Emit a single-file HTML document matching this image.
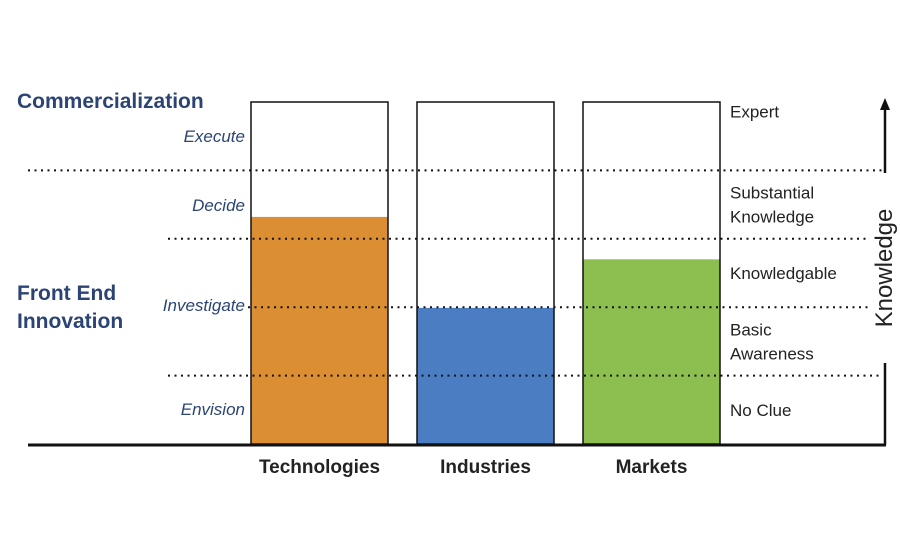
<!DOCTYPE html>
<html><head><meta charset="utf-8"><style>
html,body{margin:0;padding:0;background:#fff;}
svg{display:block;font-family:"Liberation Sans",sans-serif;}
</style></head><body>
<svg id="chart" width="900" height="550"></svg>
<script>
const categories = ["Technologies","Industries","Markets"];
const values = [3.32, 1.99, 2.70];
const colors = ["#DB8E32","#4A7DC2","#8DBE50"];
const levelLabels = [["No Clue"],["Basic","Awareness"],["Knowledgable"],["Substantial","Knowledge"],["Expert"]];
const stageLabels = ["Envision","Investigate","Decide","Execute"];
const NS="http://www.w3.org/2000/svg";
const svg=document.getElementById('chart');
const y0=444, yTop=102, maxV=5;
const y=v=>y0-(v/maxV)*(y0-yTop);
const barX=[251,417,583], barW=137;
function mk(t,a,p){const e=document.createElementNS(NS,t);for(const k in a)e.setAttribute(k,a[k]);(p||svg).appendChild(e);return e;}
// bars
categories.forEach((c,i)=>{
  const f=mk('rect',{x:barX[i],y:y(values[i]),width:barW,height:y0-y(values[i]),fill:colors[i]});
  
  
  const o=mk('rect',{x:barX[i],y:yTop,width:barW,height:y0-yTop,fill:'none',stroke:'#111','stroke-width':1.5});
  
  
  const t=mk('text',{x:barX[i]+barW/2,y:473,'text-anchor':'middle','font-size':19,'font-weight':'bold',fill:'#222'});
  t.textContent=c;
  
  
});
// dotted lines
const lineSpans=[[168,880],[248,870],[168,866],[28,885]];
[1,2,3,4].forEach((v,i)=>{
  const l=mk('line',{x1:lineSpans[i][0],x2:lineSpans[i][1],y1:y(v),y2:y(v),stroke:'#111','stroke-width':2,'stroke-dasharray':'2 4.5'});
  
  
});
// level labels
levelLabels.forEach((ls,i)=>{
  const cy=i===4?y(4.86):y(i+0.5);
  ls.forEach((s,j)=>{
    const t=mk('text',{x:730,y:cy+6+(j-(ls.length-1)/2)*24,'font-size':17,fill:'#222'});
    t.textContent=s;
    
    
  });
});
// stage labels
const stageY=[409,305,205,136];
stageLabels.forEach((s,i)=>{
  const t=mk('text',{x:245,y:stageY[i]+6,'text-anchor':'end','font-size':17,'font-style':'italic',fill:'#2B4474'});
  t.textContent=s;
  
  
});
// phase labels
[["Commercialization",108],["Front End",300],["Innovation",328]].forEach(p=>{
  const t=mk('text',{x:17,y:p[1],'font-size':21,'font-weight':'bold',fill:'#2B4474'});
  t.textContent=p[0];
  
  
});
// baseline & knowledge axis
const b=mk('line',{x1:28,x2:886,y1:445,y2:445,stroke:'#111','stroke-width':3});


const a1=mk('line',{x1:885,x2:885,y1:445,y2:363,stroke:'#111','stroke-width':2.5});


const a2=mk('line',{x1:885,x2:885,y1:173,y2:108,stroke:'#111','stroke-width':2.5});


const ah=mk('polygon',{points:'880,110 890,110 885,98',fill:'#111'});


const kt=mk('text',{x:0,y:0,transform:'translate(892,268) rotate(-90)','text-anchor':'middle','font-size':24,fill:'#222'});
kt.textContent='Knowledge';


</script>
</body></html>
